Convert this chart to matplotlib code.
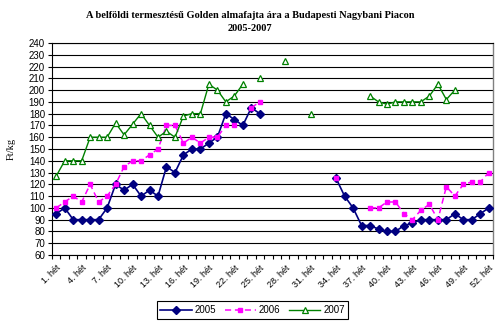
import matplotlib

matplotlib.use('Agg')

import matplotlib.pyplot as plt
import numpy as np

nan = np.nan

# Heti átlagárak (Ft/kg), 1-52. hét
weeks = np.arange(1, 53)
label_weeks = list(range(1, 53, 3))
week_labels = [f'{w}. hét' for w in label_weeks]
y_ticks = list(range(60, 241, 10))

price_2005 = [95, 100, 90, 90, 90, 90, 100, 120, 115, 120, 110, 115, 110, 135, 130,
              145, 150, 150, 155, 160, 180, 175, 170, 185, 180,
              nan, nan, nan, nan, nan, nan, nan, nan,
              125, 110, 100, 85, 85, 82, 80, 80, 85, 87, 90, 90, 90, 90, 95, 90, 90, 95, 100]
price_2006 = [100, 105, 110, 105, 120, 105, 110, 120, 135, 140, 140, 145, 150, 170, 170,
              155, 160, 155, 160, 160, 170, 170, nan, 185, 190,
              nan, nan, nan, nan, nan, nan, nan, nan,
              125, nan, nan, nan, 100, 100, 105, 105, 95, 90, 98, 103, 90, 118, 110, 120, 122, 122, 130]
price_2007 = [127, 140, 140, 140, 160, 160, 160, 172, 162, 171, 180, 170, 160, 165, 160,
              178, 180, 180, 205, 200, 190, 195, 205, nan, 210,
              nan, nan, 225, nan, nan, 180,
              nan, nan, nan, nan, nan, nan,
              195, 190, 188, 190, 190, 190, 190, 195, 205, 192, 200, nan, nan, nan, nan]

fig = plt.figure(figsize=(5, 3.28), dpi=100)
ax = fig.add_axes([0.104, 0.2226, 0.882, 0.6464])

ax.plot(weeks, price_2005, color='#000080', lw=1.2, marker='D', ms=3.8,
        mfc='#000080', mec='#000080', label='2005', zorder=3)
ax.plot(weeks, price_2006, color='#FF00FF', lw=1.1, ls=(0, (4, 2.5)), marker='s', ms=3.5,
        mfc='#FF00FF', mec='#FF00FF', label='2006', zorder=4)
ax.plot(weeks, price_2007, color='#008000', lw=1.0, marker='^', ms=5,
        mfc='white', mec='#008000', mew=0.9, label='2007', zorder=5)

ax.set_xlim(0.5, 52.5)
ax.set_ylim(60, 240)
ax.set_yticks(y_ticks)
ax.set_yticklabels([str(v) for v in y_ticks], fontsize=7, family='Liberation Sans')
ax.yaxis.grid(True, color='black', lw=0.8)
ax.set_axisbelow(True)

ax.set_xticks(label_weeks)
ax.set_xticklabels(week_labels, rotation=45, ha='right', rotation_mode='anchor',
                   fontsize=6.5, family='Liberation Sans')
ax.set_xticks(np.arange(0.5, 53, 1), minor=True)
ax.tick_params(axis='x', which='major', length=0, pad=6)
ax.tick_params(axis='x', which='minor', length=3, width=0.8, direction='out')
ax.tick_params(axis='y', length=3, width=0.8, direction='out', pad=2)

for side in ('left', 'bottom', 'top'):
    ax.spines[side].set_color('black')
    ax.spines[side].set_linewidth(0.8)
ax.spines['right'].set_color('#808080')
ax.spines['right'].set_linewidth(1.0)

fig.text(0.022, 0.545, 'Ft/kg', rotation=90, ha='center', va='center',
         fontsize=7.5, family='Liberation Serif')

fig.text(0.5, 0.954, 'A belföldi termesztésű Golden almafajta ára a Budapesti Nagybani Piacon',
         ha='center', va='center', fontsize=7.5, fontweight='bold', family='Liberation Serif')
fig.text(0.5, 0.912, '2005-2007', ha='center', va='center',
         fontsize=7.5, fontweight='bold', family='Liberation Serif')

leg = fig.legend(loc='upper center', bbox_to_anchor=(0.505, 0.097), ncol=3,
                 fancybox=False, edgecolor='black', framealpha=1,
                 handlelength=3.2, handletextpad=0.3, columnspacing=0.9,
                 borderpad=0.4, prop={'family': 'Liberation Sans', 'size': 7})
leg.get_frame().set_linewidth(0.8)

fig.savefig('out.png', dpi=100)
